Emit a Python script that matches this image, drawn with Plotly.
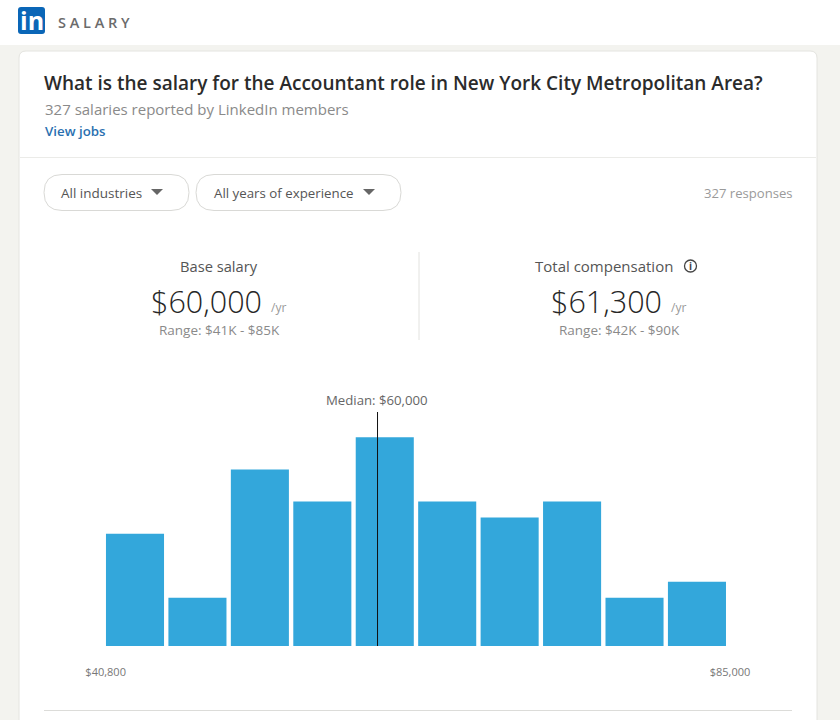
import plotly.graph_objects as go

W, H = 840, 720

# --- data ---
bins = list(range(10))
shares = [7, 3, 11, 9, 13, 9, 8, 9, 3, 4]
median_pos = 3.884  # where the median line sits, in bin units
median_label = "Median: $60,000"
tick_pos = [-0.47, 9.53]
tick_labels = ["$40,800", "$85,000"]

FONT = '"Open Sans", "Noto Sans", sans-serif'
BAR = "#33a7db"
DARK = "#2b2b2b"
GREY = "#6f6f6f"
LIGHT = "#e6e6e3"


def px(x):
    return x / W


def py(y):
    return 1 - y / H


def rounded(x0, y0, x1, y1, r):
    return (
        f"M{px(x0 + r)},{py(y0)} L{px(x1 - r)},{py(y0)} "
        f"Q{px(x1)},{py(y0)} {px(x1)},{py(y0 + r)} L{px(x1)},{py(y1 - r)} "
        f"Q{px(x1)},{py(y1)} {px(x1 - r)},{py(y1)} L{px(x0 + r)},{py(y1)} "
        f"Q{px(x0)},{py(y1)} {px(x0)},{py(y1 - r)} L{px(x0)},{py(y0 + r)} "
        f"Q{px(x0)},{py(y0)} {px(x0 + r)},{py(y0)} Z"
    )


fig = go.Figure()

fig.add_trace(go.Bar(
    x=bins, y=shares,
    marker=dict(color=BAR, line=dict(width=0)),
    hoverinfo="skip",
))

# median marker
fig.add_trace(go.Scatter(
    x=[median_pos, median_pos], y=[0, 14.58],
    mode="lines",
    line=dict(color="#111111", width=1),
    hoverinfo="skip",
))

shapes = []


def box(x0, y0, x1, y1, fill, line=None):
    shapes.append(dict(
        type="rect", xref="paper", yref="paper", layer="below",
        x0=px(x0), y0=py(y0), x1=px(x1), y1=py(y1),
        fillcolor=fill, line=dict(width=0) if line is None else dict(color=line, width=1),
    ))


def round_box(x0, y0, x1, y1, r, fill, line=None):
    shapes.append(dict(
        type="path", xref="paper", yref="paper", layer="below",
        path=rounded(x0, y0, x1, y1, r),
        fillcolor=fill, line=dict(width=0) if line is None else dict(color=line, width=1),
    ))


def rule(x0, y0, x1, y1, color=LIGHT):
    shapes.append(dict(
        type="line", xref="paper", yref="paper", layer="below",
        x0=px(x0), y0=py(y0), x1=px(x1), y1=py(y1),
        line=dict(color=color, width=1),
    ))


def caret(cx, cy):
    shapes.append(dict(
        type="path", xref="paper", yref="paper", layer="below",
        path=f"M{px(cx - 6)},{py(cy - 3)} L{px(cx + 6)},{py(cy - 3)} L{px(cx)},{py(cy + 3)} Z",
        fillcolor="#666666", line=dict(width=0),
    ))


# page, header, card
box(0, 45, W, H, "#f3f3ef")
box(0, 0, W, 45, "#ffffff")
round_box(19, 51, 817, 760, 7, "#ffffff", "#e4e4e0")
rule(20, 157.5, 816, 157.5, "#ebebe8")
rule(44, 710.5, 792, 710.5, "#dcdcd9")
rule(419, 252, 419, 340, "#e2e2df")

# logo
round_box(18, 7, 45, 34, 3, "#0a66b7")

# filter pills
round_box(44, 174.5, 189, 210.5, 18, "#ffffff", "#d9d9d6")
round_box(196, 174.5, 401, 210.5, 18, "#ffffff", "#d9d9d6")
caret(157, 192)
caret(369, 192)

# info icon
shapes.append(dict(
    type="circle", xref="paper", yref="paper", layer="below",
    x0=px(684.5), y0=py(260), x1=px(696.5), y1=py(272),
    line=dict(color="#444444", width=1.3), fillcolor="#ffffff",
))

annotations = []


def label(x, y, text, size, color=GREY, anchor="left", weight=400):
    annotations.append(dict(
        xref="paper", yref="paper", x=px(x), y=py(y),
        text=text, showarrow=False, xanchor=anchor, yanchor="middle",
        xshift=0, yshift=0, borderpad=0,
        font=dict(family=FONT, size=size, color=color, weight=weight),
    ))


label(18.5, 20, "in", 25, "#ffffff", weight=700)
label(57, 22, "S A L A R Y", 14.5, "#6b6b6b", weight=600)
label(43.2, 83, "What is the salary for the Accountant role in New York City Metropolitan Area?", 19, DARK, weight=600)
label(43.5, 109, "327 salaries reported by LinkedIn members", 15, "#8a8a8a")
label(43.5, 131, "View jobs", 13.3, "#2a70b0", weight=600)
label(60, 192.5, "All industries", 13.5, "#555555")
label(213, 192.5, "All years of experience", 13.3, "#555555")
label(793.5, 192.5, "327 responses", 13.1, "#9a9a9a", anchor="right")

label(219, 266, "Base salary", 14.7, "#555555", anchor="center")
label(150, 300.5, "$60,000", 30.5, "#262626", weight=300)
label(270, 307.5, "/yr", 12, "#9a9a9a")
label(219, 329.5, "Range: $41K - $85K", 13.5, "#8a8a8a", anchor="center")

label(603.5, 266, "Total compensation", 15, "#555555", anchor="center")
label(690.5, 265.5, "i", 10, "#444444", anchor="center", weight=700)
label(550, 300.5, "$61,300", 30.5, "#262626", weight=300)
label(670, 307.5, "/yr", 12, "#9a9a9a")
label(619, 329.5, "Range: $42K - $90K", 13.5, "#8a8a8a", anchor="center")

label(377, 399.5, median_label, 13.2, "#666666", anchor="center")

fig.update_layout(
    width=W, height=H,
    margin=dict(l=0, r=0, t=0, b=0),
    paper_bgcolor="#ffffff",
    plot_bgcolor="rgba(0,0,0,0)",
    showlegend=False,
    bargap=0.07,
    shapes=shapes,
    annotations=annotations,
    xaxis=dict(
        domain=[px(72.56), px(759.4)],
        range=[-1, 10],
        tickmode="array",
        tickvals=tick_pos,
        ticktext=tick_labels,
        ticks="outside",
        ticklen=16,
        tickcolor="rgba(0,0,0,0)",
        tickfont=dict(family=FONT, size=11, color="#777777"),
        showgrid=False,
        zeroline=False,
        showline=False,
    ),
    yaxis=dict(
        domain=[py(646), py(412)],
        range=[0, 14.58],
        visible=False,
        showgrid=False,
        zeroline=False,
    ),
)

fig.write_html(
    "out.html",
    config=dict(displayModeBar=False),
    post_script="document.body.style.margin = '0';",
)
